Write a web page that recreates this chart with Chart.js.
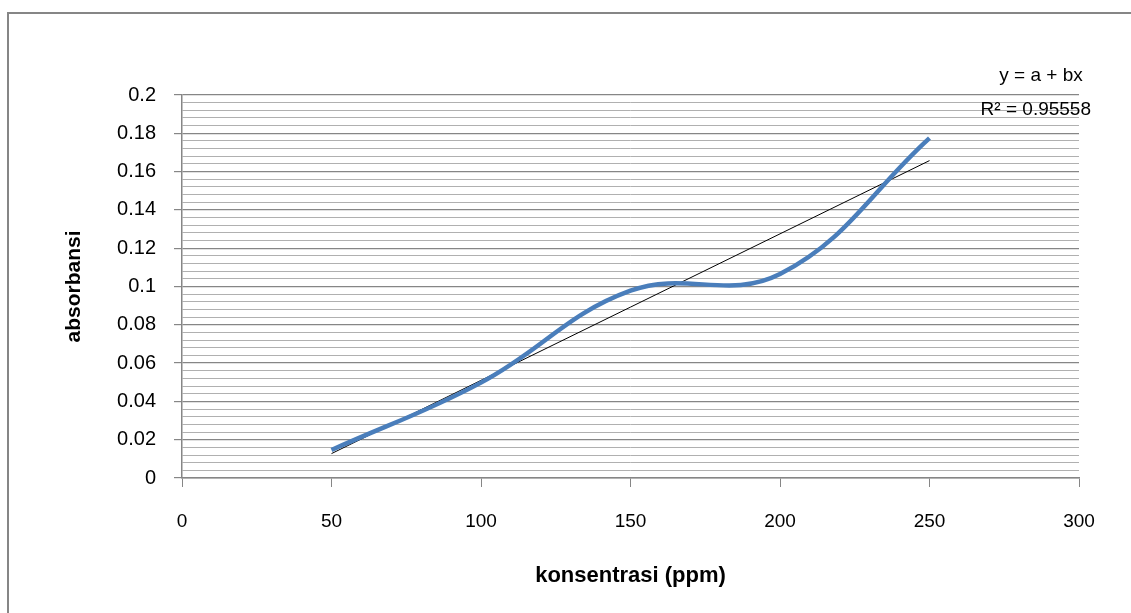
<!DOCTYPE html>
<html>
<head>
<meta charset="utf-8">
<script src="https://cdn.jsdelivr.net/npm/chart.js@4/dist/chart.umd.min.js"></script>
<style>
  html, body { margin: 0; padding: 0; background: #fff; }
  #wrap { width: 1131px; height: 613px; position: relative; }
</style>
</head>
<body>
<div id="wrap"><canvas id="myChart" width="1131" height="613"></canvas></div>
<script>
// data
var konsentrasi = [50, 100, 150, 200, 250];
var absorbansi = [0.0146, 0.0498, 0.0978, 0.1065, 0.1775];
var xTicks = [0, 50, 100, 150, 200, 250, 300];
var yTicks = [0, 0.02, 0.04, 0.06, 0.08, 0.1, 0.12, 0.14, 0.16, 0.18, 0.2];
var eqText = 'y = a + bx';
var r2Text = 'R\u00B2 = 0.95558';

// least squares trendline from the points
var n = konsentrasi.length, sx = 0, sy = 0, sxy = 0, sxx = 0;
for (var i = 0; i < n; i++) {
    sx += konsentrasi[i]; sy += absorbansi[i];
    sxy += konsentrasi[i] * absorbansi[i]; sxx += konsentrasi[i] * konsentrasi[i];
}
var b = (n * sxy - sx * sy) / (n * sxx - sx * sx);
var a = (sy - b * sx) / n;
var xFirst = konsentrasi[0], xLast = konsentrasi[n - 1];

function isMajor(v) {
    return Math.abs(Math.round(v * 1000) % 20) === 0;
}

var frame = {
    id: 'frame',
    beforeDraw: function(chart) {
        var c = chart.ctx;
        c.save();
        c.strokeStyle = '#868686';
        c.lineWidth = 2;
        c.beginPath();
        c.moveTo(8, 613);
        c.lineTo(8, 13);
        c.lineTo(1131, 13);
        c.stroke();
        c.restore();
    },
    afterDraw: function(chart) {
        var c = chart.ctx;
        c.save();
        c.fillStyle = '#000';
        c.font = '19px "Liberation Sans", sans-serif';
        c.textAlign = 'center';
        c.textBaseline = 'middle';
        c.fillText(eqText, 1041, 76);
        c.textAlign = 'right';
        c.fillText(r2Text, 1091, 110);
        c.restore();
    }
};

var ctx = document.getElementById('myChart').getContext('2d');
var myChart = new Chart(ctx, {
    type: 'scatter',
    data: {
        datasets: [{
            label: 'absorbansi',
            data: konsentrasi.map(function(x, i) { return {x: x, y: absorbansi[i]}; }),
            showLine: true,
            borderColor: '#4a7ebb',
            borderWidth: 4.5,
            pointRadius: 0,
            tension: 0.4,
            cubicInterpolationMode: 'default'
        },
        {
            label: 'trend',
            data: [{x: xFirst, y: a + b * xFirst}, {x: xLast, y: a + b * xLast}],
            showLine: true,
            borderColor: '#000',
            borderWidth: 1,
            pointRadius: 0
        }]
    },
    options: {
        responsive: false,
        animation: false,
        layout: { padding: { left: 0, top: 95, right: 52, bottom: 0 } },
        plugins: {
            legend: { display: false },
            tooltip: { enabled: false }
        },
        scales: {
            x: {
                type: 'linear',
                min: 0,
                max: 300,
                afterBuildTicks: function(s) { s.ticks = xTicks.map(function(v) { return {value: v}; }); },
                afterFit: function(s) { s.height = 135; },
                grid: {
                    drawOnChartArea: false,
                    tickLength: 9,
                    tickColor: '#868686',
                    color: '#868686'
                },
                border: { color: '#868686', width: 1.5 },
                ticks: {
                    padding: 23,
                    color: '#000',
                    font: { family: '"Liberation Sans", sans-serif', size: 19 }
                },
                title: {
                    display: true,
                    text: 'konsentrasi (ppm)',
                    color: '#000',
                    font: { family: '"Liberation Sans", sans-serif', size: 22, weight: 'bold' },
                    padding: { top: 0, bottom: 24 }
                }
            },
            y: {
                min: 0,
                max: 0.2,
                afterBuildTicks: function(s) {
                    var t = [];
                    for (var k = 0; k <= 50; k++) t.push({value: Math.round(k * 4) / 1000});
                    s.ticks = t;
                },
                afterFit: function(s) { s.width = 182; },
                grid: {
                    tickLength: 8,
                    lineWidth: function(c) { return isMajor(c.tick.value) ? 1.2 : 1; },
                    color: function(c) { return isMajor(c.tick.value) ? '#868686' : '#b0b0b0'; },
                    tickColor: function(c) { return isMajor(c.tick.value) ? '#868686' : 'rgba(0,0,0,0)'; }
                },
                border: { color: '#868686', width: 1.5 },
                ticks: {
                    autoSkip: false,
                    padding: 18,
                    color: '#000',
                    font: { family: '"Liberation Sans", sans-serif', size: 20 },
                    callback: function(v) {
                        if (!isMajor(v)) return '';
                        var r = Math.round(v * 100) / 100;
                        return yTicks.indexOf(r) >= 0 ? String(r) : '';
                    }
                },
                title: {
                    display: true,
                    text: 'absorbansi',
                    color: '#000',
                    font: { family: '"Liberation Sans", sans-serif', size: 21, weight: 'bold' },
                    padding: { top: 62, bottom: 0 }
                }
            }
        }
    },
    plugins: [frame]
});
</script>
</body>
</html>
